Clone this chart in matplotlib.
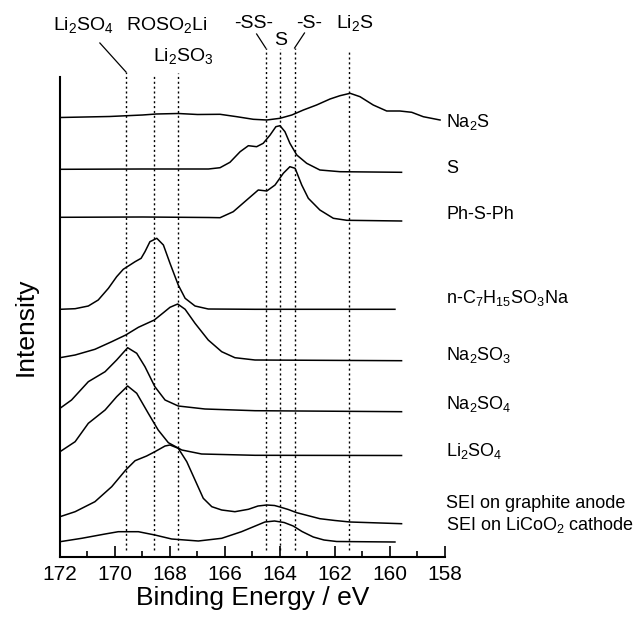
import matplotlib
matplotlib.use("Agg")
import matplotlib.pyplot as plt
from matplotlib.ticker import MultipleLocator

plt.rcParams['font.family'] = ['Liberation Sans', 'DejaVu Sans']
plt.rcParams['mathtext.fontset'] = 'custom'
plt.rcParams['mathtext.rm'] = 'Liberation Sans'
plt.rcParams['mathtext.default'] = 'regular'

# S2p spectra, stacked (binding energy in eV, intensity in arbitrary offset units)
na2s_e = [172.0, 170.2, 169.0, 168.5, 167.7, 167.0, 166.18, 165.57, 164.97, 164.48, 164.0, 163.57,
          163.15, 162.67, 162.18, 161.82, 161.45, 161.09, 160.61, 160.12, 159.64, 159.21, 158.79, 158.18]
na2s_y = [439.5, 440.5, 442, 443, 443.5, 442.5, 442.7, 440.3, 437.7, 437, 438.7, 442,
          447, 452, 458, 461.3, 463.7, 460.3, 452, 446, 446, 444.7, 440.3, 437]

s_e = [172.0, 169.0, 166.6, 166.18, 165.82, 165.45, 165.15, 164.85, 164.61, 164.36, 164.15, 164.0,
       163.82, 163.64, 163.39, 163.03, 162.55, 161.82, 159.58]
s_y = [387.7, 388, 388, 389.3, 394.7, 405.3, 411.3, 410.3, 413.7, 422, 430.3, 431.3,
       425.3, 413.7, 402, 393.7, 387, 385.3, 384.7]

phs_e = [172.0, 169.0, 166.6, 166.18, 165.7, 165.21, 164.79, 164.48, 164.18, 163.88, 163.64, 163.45,
         163.21, 162.97, 162.55, 162.06, 161.57, 159.58]
phs_y = [339.7, 340, 339.5, 339.3, 345.3, 357, 367, 366, 372, 383.7, 390.3, 388.7,
         372, 358.7, 347, 338.7, 336.7, 336]

c7_e = [172.0, 171.45, 170.97, 170.61, 170.24, 169.94, 169.7, 169.27, 169.05, 168.91, 168.73,
        168.48, 168.24, 168.0, 167.7, 167.45, 167.09, 166.61, 164.91, 159.82]
c7_y = [247.7, 248.3, 251, 257, 268.7, 280.3, 287.7, 295.3, 298.7, 305.3, 315.3,
        318.7, 312, 293.7, 272, 258.7, 251, 248, 247.7, 247.7]

na2so3_e = [172.0, 171.45, 170.73, 170.12, 169.61, 169.15, 168.57, 168.24, 168.0, 167.72, 167.45,
            167.09, 166.61, 166.12, 165.64, 164.91, 159.58]
na2so3_y = [199.3, 202, 207.7, 215.3, 222, 229.7, 237, 244.3, 249.7, 253, 247.7,
            233.7, 217, 205.3, 199.3, 197, 196.3]

na2so4_e = [172.0, 171.58, 170.97, 170.36, 169.94, 169.54, 169.21, 168.91, 168.55, 168.18, 167.7,
            166.73, 164.91, 159.58]
na2so4_y = [148.7, 157, 175.3, 185.3, 197, 209.3, 203.7, 190.3, 170.3, 157, 151,
            148, 146.3, 145.3]

li2so4_e = [172.0, 171.45, 170.97, 170.36, 169.94, 169.54, 169.21, 168.79, 168.43, 168.06, 167.57,
            166.85, 164.91, 159.58]
li2so4_y = [105.3, 115.3, 133.7, 147, 160.3, 171, 163.7, 143.7, 127, 114.3, 107,
            103, 101.7, 101.5]

sei_a_e = [172.0, 171.45, 170.73, 170.12, 169.61, 169.27, 168.85, 168.55, 168.18, 168.0, 167.7,
           167.39, 167.09, 166.79, 166.48, 166.12, 165.64, 165.15, 164.8, 164.48, 164.2, 164.0,
           163.7, 163.39, 162.55, 162.0, 161.45, 159.58]
sei_a_y = [40.3, 45.3, 55.3, 70.3, 87, 96.3, 101, 105.3, 111, 112, 108.7,
           95.3, 77, 58.7, 50.3, 47, 45.3, 47.7, 51, 52, 51.5, 50,
           47.5, 44.3, 38.3, 36.5, 35, 33.3]

sei_c_e = [172.0, 171.21, 170.36, 169.88, 169.15, 168.55, 167.94, 166.97, 166.12, 165.4, 164.9,
           164.55, 164.2, 163.85, 163.52, 163.2, 162.79, 162.4, 161.94, 159.82]
sei_c_y = [15.3, 18.7, 23, 25.3, 25.3, 22, 18, 16, 18.7, 25.3, 31,
           35, 36, 34.5, 31, 25.5, 20, 17, 15.5, 15]

spectra = [
    (na2s_e, na2s_y, 'Na$_2$S', 430),
    (s_e, s_y, 'S', 384),
    (phs_e, phs_y, 'Ph-S-Ph', 338),
    (c7_e, c7_y, 'n-C$_7$H$_{15}$SO$_3$Na', 254),
    (na2so3_e, na2so3_y, 'Na$_2$SO$_3$', 197),
    (na2so4_e, na2so4_y, 'Na$_2$SO$_4$', 148),
    (li2so4_e, li2so4_y, 'Li$_2$SO$_4$', 101),
    (sei_a_e, sei_a_y, 'SEI on graphite anode', 49),
    (sei_c_e, sei_c_y, 'SEI on LiCoO$_2$ cathode', 27),
]

# reference binding energies
ref_e = [169.6, 168.57, 167.7, 164.52, 164.0, 163.47, 161.48]
ref_names = ['Li$_2$SO$_4$', 'ROSO$_2$Li', 'Li$_2$SO$_3$', '-SS-', 'S', '-S-', 'Li$_2$S']
ref_top = [485, 482, 484, 509, 508, 509, 507]
ref_label_x = [171.13, 168.11, 167.5, 164.97, 163.96, 162.95, 161.27]
ref_label_y = [527, 527, 495.5, 528.7, 512, 528.7, 528.7]

fig = plt.figure(figsize=(6.39, 6.17), dpi=100)
ax = fig.add_axes([60 / 639, 60 / 617, 385 / 639, 480 / 617])

for e, y, name, ly in spectra:
    ax.plot(e, y, color='black', lw=1.1, clip_on=False, solid_joinstyle='round')
    ax.text(157.95, ly, name, fontsize=13, ha='left', va='baseline')

for e, top in zip(ref_e, ref_top):
    ax.plot([e, e], [7, top], color='black', lw=1.0, ls=(0, (1.5, 2)), clip_on=False)

for x, y, name in zip(ref_label_x, ref_label_y, ref_names):
    ax.text(x, y, name, fontsize=14, ha='center', va='baseline')

# leader lines from labels to reference lines
ax.plot([170.55, 169.6], [514, 485], color='black', lw=0.9, clip_on=False)
ax.plot([164.85, 164.52], [523, 509], color='black', lw=0.9, clip_on=False)
ax.plot([163.11, 163.47], [524, 509], color='black', lw=0.9, clip_on=False)

ax.set_xlim(172, 158)
ax.set_ylim(0, 480)
ax.xaxis.set_major_locator(MultipleLocator(2))
ax.xaxis.set_minor_locator(MultipleLocator(1))
ax.tick_params(axis='x', which='major', direction='in', length=8, width=1.2, labelsize=15, pad=6)
ax.tick_params(axis='x', which='minor', direction='in', length=4, width=1.2)
ax.set_yticks([])
ax.spines['top'].set_visible(False)
ax.spines['right'].set_visible(False)
ax.spines['left'].set_linewidth(1.5)
ax.spines['bottom'].set_linewidth(1.5)

ax.set_xlabel('Binding Energy / eV', fontsize=19, labelpad=1)
ax.set_ylabel('Intensity', fontsize=19)
ax.yaxis.set_label_coords(-22 / 385, (557 - 327) / 480)

fig.savefig('out.png', dpi=100)
